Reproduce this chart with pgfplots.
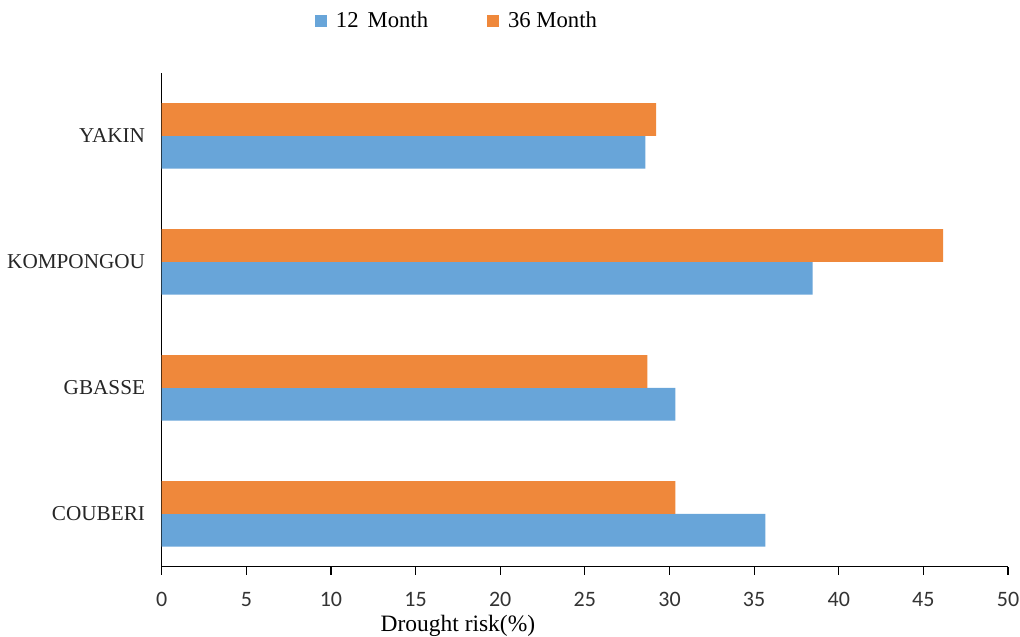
\documentclass[border=0pt]{standalone}
\usepackage{pgfplots}
\pgfplotsset{compat=1.18}
\usepackage{fontspec}
\setmainfont{Liberation Serif}
\newfontfamily\ticksfont{Carlito}

\definecolor{barblue}{RGB}{104,165,217}
\definecolor{barorange}{RGB}{239,136,59}

\begin{document}
\begin{tikzpicture}
% page frame: 1020 x 637 units of 0.75pt, axis box origin at (161.7, 566.7)
\path[use as bounding box] (-121.3pt,-52.7pt) rectangle (643.7pt,425.0pt);
\begin{axis}[
  at={(0pt,0pt)}, anchor=south west,
  scale only axis,
  width=634.7pt, height=370.3pt,
  xmin=0, xmax=50,
  ymin=-0.42, ymax=3.50,
  axis x line=bottom, axis y line=left,
  axis line style={-, black, line width=1pt},
  xtick={0,5,...,50},
  ytick={0,1,2,3},
  yticklabels={COUBERI,GBASSE,KOMPONGOU,YAKIN},
  tick align=outside,
  major tick length=6pt,
  xtick style={black, line width=0.9pt},
  ytick style={draw=none},
  /pgf/number format/assume math mode=true,
  xticklabel style={font=\ticksfont\fontsize{16.5}{19}\selectfont, color=black!80, yshift=-10pt},
  yticklabel style={font=\fontsize{15.9}{18}\selectfont, color=black!85, xshift=-3pt},
  xlabel={Drought risk(\%)},
  xlabel style={at={(axis description cs:0.35,0)}, anchor=base, yshift=-48.75pt,
                font=\fontsize{17.6}{20}\selectfont},
  legend columns=2,
  legend style={draw=none, fill=none, at={(0.349,1.105)}, anchor=center,
                font=\fontsize{17}{20}\selectfont,
                /tikz/every odd column/.append style={column sep=5pt},
                /tikz/every even column/.append style={column sep=42pt}},
  legend image code/.code={\fill[#1] (0pt,-4.5pt) rectangle (9pt,4.5pt);},
  clip=false,
]
\addplot[xbar, bar width=0.26, bar shift=-0.13, fill=barblue, draw=none]
  coordinates {(35.67,0) (30.35,1) (38.45,2) (28.58,3)};
\addlegendentry{12\hspace{0.4em}Month}
\addplot[xbar, bar width=0.26, bar shift=0.13, fill=barorange, draw=none]
  coordinates {(30.35,0) (28.70,1) (46.16,2) (29.21,3)};
\addlegendentry{36 Month}
\end{axis}
\end{tikzpicture}
\end{document}
